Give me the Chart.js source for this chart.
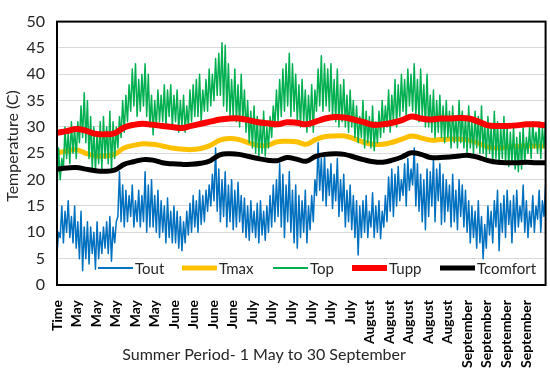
<!DOCTYPE html>
<html>
<head>
<meta charset="utf-8">
<title>Summer temperatures</title>
<script src="https://cdn.jsdelivr.net/npm/chart.js@4.4.0/dist/chart.umd.min.js"></script>
<style>
    html, body { margin: 0; padding: 0; background: #fff; }
    #wrap { width: 550px; height: 370px; }
</style>
</head>
<body>
<div id="wrap"><canvas id="tempChart" width="550" height="370"></canvas></div>
<script>
// ============================================
// Summer period temperatures - 1 May to 30 September
// ============================================

const DAYS = 153;
const FONT = 'Lato, "Open Sans", sans-serif';

// x axis labels (one every ~6 days)
const tickLabels = ['Time', 'May', 'May', 'May', 'May', 'May', 'June', 'June', 'June', 'June',
    'July', 'July', 'July', 'July', 'July', 'July', 'August', 'August', 'August', 'August', 'August',
    'September', 'September', 'September', 'September'];

// Tout: daily low / high (C), one value per day
const toutLow = [
    6, 9, 8, 10, 9, 8, 7, 5, 2.7, 5,
    4, 6, 3, 5, 6, 7, 6, 4.5, 8, 13,
    12, 11, 12, 13, 11, 12, 11, 12, 10, 11,
    11, 10, 9, 10, 8, 9, 8, 8, 7, 6.5,
    8, 9.5, 10, 11, 10, 11.5, 12, 14, 15, 16,
    14, 12, 13, 11, 12, 10.5, 11, 12, 10, 9,
    8.5, 10, 9, 8, 9.5, 8.5, 10, 11, 12, 13,
    11, 9, 12, 10, 8, 7, 9, 10, 8, 10.5,
    12, 17, 18, 16, 15, 17, 14.5, 16, 13, 14,
    11, 12, 10.5, 9, 5.7, 9, 10, 9, 11, 9,
    10, 8.8, 11, 12, 14, 13, 15, 16, 17, 15,
    18, 19, 15, 14, 12, 10.5, 13, 15, 12, 16,
    11.5, 12, 14, 11, 12, 10.5, 13, 11, 10, 8,
    9, 7, 8, 5, 7, 9.5, 8, 11, 6.5, 10,
    9, 11.5, 8, 10, 11, 12, 10, 9, 11, 10,
    12.5, 10, 13
];
const toutHigh = [
    10, 15, 14, 16, 13, 15, 12, 14, 11, 12,
    11, 10, 12, 10, 11, 12, 13, 11, 12, 21.5,
    19, 18, 17, 19, 16, 18, 17, 21.5, 19, 20,
    17, 18, 16, 15, 16.5, 14, 15, 14, 13, 12,
    14, 15.5, 17, 16, 18, 17, 18, 19, 21, 26,
    22, 20, 21.5, 19, 20, 18, 19.5, 17, 16.5, 15,
    16, 14, 15.5, 16, 14, 15, 17, 19, 20, 23,
    21, 19, 21.5, 18, 19, 17, 16, 18, 15, 17,
    20, 27, 24, 25, 22, 23, 21, 24, 20, 21,
    18, 19, 17, 16, 15, 16, 17, 14, 17.5, 15,
    16, 14, 17, 20.5, 22, 21, 22.5, 20, 23, 24,
    22, 26, 23, 21, 20, 22, 21.5, 24, 22, 23,
    21, 20, 19, 21, 18, 20, 19, 18, 16, 15,
    14, 16, 13, 11.5, 15, 14, 16, 18, 15.5, 17,
    18, 16, 17, 18, 15, 19, 16, 14, 17, 15,
    18, 16, 19
];

// Top: daily low / high (C)
const topLow = [
    18, 20, 22, 24, 23, 25, 24, 27, 28, 27,
    24, 22, 21.5, 23, 22, 24, 23, 21.5, 24, 26,
    28, 29, 31, 33, 34, 32, 33, 34, 32, 30,
    28.5, 30, 31, 31, 30, 32, 30, 31, 29, 30,
    29, 30, 31, 32, 32, 31, 33, 33, 34, 35,
    36, 36, 34, 33, 32, 32, 31, 30, 31, 29,
    27, 26, 25, 24.5, 25, 24.5, 26, 28, 30, 31,
    32, 33, 34, 32, 33, 31, 30, 31, 29, 30,
    29, 33, 34, 33, 34, 33, 32, 31, 30, 31,
    30, 29, 30, 28, 27, 28, 26, 27, 26, 25.5,
    27, 28, 29, 30, 29, 31, 30, 32, 33, 32,
    34, 33, 32, 31, 32, 30, 30, 29, 28, 29,
    28, 27, 28, 26, 27, 26, 27, 26, 25, 26,
    25, 26, 25, 25, 24, 25, 23, 24, 23, 24,
    23, 22.5, 23, 22, 21.5, 22, 23, 25, 24, 26,
    25, 24, 26
];
const topHigh = [
    26, 24, 30, 29, 31, 30, 31, 34, 36.5, 35,
    32, 30, 29, 31, 32, 30, 33, 31, 30, 32,
    35, 36, 38, 41, 42, 39, 40, 42, 40, 36,
    35, 37, 36, 38, 37, 38, 36, 37, 35, 36,
    34, 37, 38, 39, 40, 37, 39, 41, 40, 43,
    44, 46, 45.5, 42, 39, 41, 38, 40, 37, 35,
    33, 34, 32, 31, 33, 30, 32, 34, 37, 39,
    41, 42, 44, 42, 40, 38, 39, 37, 36, 38,
    37, 41, 43.5, 42, 41, 42, 39, 41, 38, 39,
    36, 37, 35, 34, 32, 35, 33, 32, 34, 31,
    33, 35, 34, 37, 36, 39, 38, 40, 39, 41,
    40, 42, 39, 41, 38, 40, 36, 37, 35, 36,
    34, 35, 33, 34, 32, 35, 33, 32, 34, 31,
    33, 32, 34, 31, 32, 30, 33, 31, 30, 32,
    30, 29, 30, 28, 29, 30, 28, 30, 31, 29,
    31, 30, 31
];

// smooth series, one value every 3 days (day 0, 3, ... 153)
const tmax = [
    25.1, 25.4, 25.7, 25.0, 24.5, 24.5, 24.8, 26.0, 26.5, 26.8,
    26.7, 26.4, 26.0, 25.8, 25.7, 25.9, 26.5, 27.5, 27.8, 27.6,
    27.0, 26.5, 26.5, 27.2, 27.3, 27.2, 26.7, 27.6, 28.2, 28.3,
    28.3, 27.8, 27.1, 26.7, 26.7, 27.1, 27.7, 28.3, 27.9, 27.5,
    27.6, 27.7, 27.7, 27.5, 26.9, 26.2, 26.0, 26.2, 26.3, 26.4,
    26.4, 26.4
];
const tupp = [
    28.9, 29.2, 29.6, 29.3, 28.7, 28.6, 28.8, 29.9, 30.4, 30.6,
    30.4, 30.2, 30.0, 29.8, 30.2, 30.6, 31.0, 31.4, 31.6, 31.6,
    31.3, 30.9, 30.7, 30.5, 30.9, 30.8, 30.5, 31.0, 31.6, 31.9,
    31.8, 31.4, 30.9, 30.4, 30.5, 30.8, 31.3, 32.0, 31.6, 31.4,
    31.6, 31.6, 31.7, 31.6, 31.0, 30.3, 30.2, 30.2, 30.3, 30.5,
    30.5, 30.3
];
const tcomfort = [
    22.0, 22.2, 22.3, 22.0, 21.7, 21.6, 21.8, 22.9, 23.4, 23.8,
    23.7, 23.2, 23.0, 22.9, 22.9, 23.1, 23.6, 24.7, 24.9, 24.8,
    24.4, 24.0, 23.7, 23.6, 24.2, 23.9, 23.5, 24.4, 24.8, 24.9,
    24.8, 24.3, 23.8, 23.4, 23.3, 23.7, 24.3, 25.1, 24.8, 24.2,
    24.2, 24.3, 24.5, 24.6, 24.2, 23.6, 23.3, 23.2, 23.2, 23.3,
    23.2, 23.2
];

// low then high for every day
function dailyPoints(low, high) {
    const pts = [];
    const n = low.length * 2 - 1;
    low.forEach((lo, d) => {
        pts.push({ x: (2 * d) * DAYS / n, y: lo });
        pts.push({ x: (2 * d + 1) * DAYS / n, y: high[d] });
    });
    return pts;
}

function stepPoints(values, step) {
    return values.map((v, i) => ({ x: i * step, y: v }));
}

// frame, legend and axis titles
const decorations = {
    id: 'decorations',
    afterDatasetsDraw(chart) {
        const ctx = chart.ctx;
        const a = chart.chartArea;
        ctx.save();

        ctx.strokeStyle = '#000';
        ctx.lineWidth = 2;
        ctx.strokeRect(a.left, a.top, a.right - a.left, a.bottom - a.top);

        // legend inside plot, bottom row
        const legendX = [98, 182, 273, 352, 440];
        ctx.font = '15px ' + FONT;
        ctx.textBaseline = 'middle';
        ctx.textAlign = 'left';
        const y = 268;
        chart.data.datasets.forEach((ds, i) => {
            const x = legendX[i];
            ctx.strokeStyle = ds.borderColor;
            ctx.lineWidth = Math.max(ds.borderWidth, 2);
            ctx.beginPath();
            ctx.moveTo(x, y);
            ctx.lineTo(x + 35, y);
            ctx.stroke();
            ctx.fillStyle = '#262626';
            ctx.fillText(ds.label, x + 37, y + 1);
        });

        ctx.font = '16px ' + FONT;
        ctx.fillStyle = '#262626';
        ctx.textAlign = 'center';
        ctx.fillText('Summer Period- 1 May to 30 September', 264, 355);

        ctx.translate(13, 146);
        ctx.rotate(-Math.PI / 2);
        ctx.fillText('Temperature (C)', 0, 0);
        ctx.restore();
    }
};

new Chart(document.getElementById('tempChart'), {
    type: 'line',
    data: {
        datasets: [
            { label: 'Tout', data: dailyPoints(toutLow, toutHigh), borderColor: '#0070C0', borderWidth: 1.5, order: 5 },
            { label: 'Tmax', data: stepPoints(tmax, 3), borderColor: '#FFC000', borderWidth: 5, tension: 0.4, order: 4 },
            { label: 'Top', data: dailyPoints(topLow, topHigh), borderColor: '#00B050', borderWidth: 1.5, order: 3 },
            { label: 'Tupp', data: stepPoints(tupp, 3), borderColor: '#FF0000', borderWidth: 6, tension: 0.4, order: 2 },
            { label: 'Tcomfort', data: stepPoints(tcomfort, 3), borderColor: '#000000', borderWidth: 5, tension: 0.4, order: 1 }
        ]
    },
    options: {
        responsive: false,
        animation: false,
        devicePixelRatio: 1,
        layout: { padding: { left: 0, right: 4, top: 8, bottom: 0 } },
        elements: { point: { radius: 0 }, line: { borderJoinStyle: 'round' } },
        plugins: { legend: { display: false }, tooltip: { enabled: false } },
        scales: {
            x: {
                type: 'linear',
                min: 0,
                max: DAYS,
                grid: { display: false },
                border: { display: false },
                afterBuildTicks: s => {
                    s.ticks = tickLabels.map((_, i) => ({ value: i * DAYS / tickLabels.length }));
                },
                afterFit: s => { s.height = 85; },
                ticks: {
                    autoSkip: false,
                    minRotation: 90,
                    maxRotation: 90,
                    padding: 7,
                    color: '#000',
                    font: { family: FONT, size: 14, weight: 'bold' },
                    callback: (v, i) => tickLabels[i]
                }
            },
            y: {
                min: 0,
                max: 50,
                grid: { color: '#d9d9d9', drawTicks: false },
                border: { display: false },
                afterFit: s => { s.width = 57; },
                ticks: { stepSize: 5, padding: 12, color: '#262626', font: { family: FONT, size: 16 } }
            }
        }
    },
    plugins: [decorations]
});
</script>
</body>
</html>
